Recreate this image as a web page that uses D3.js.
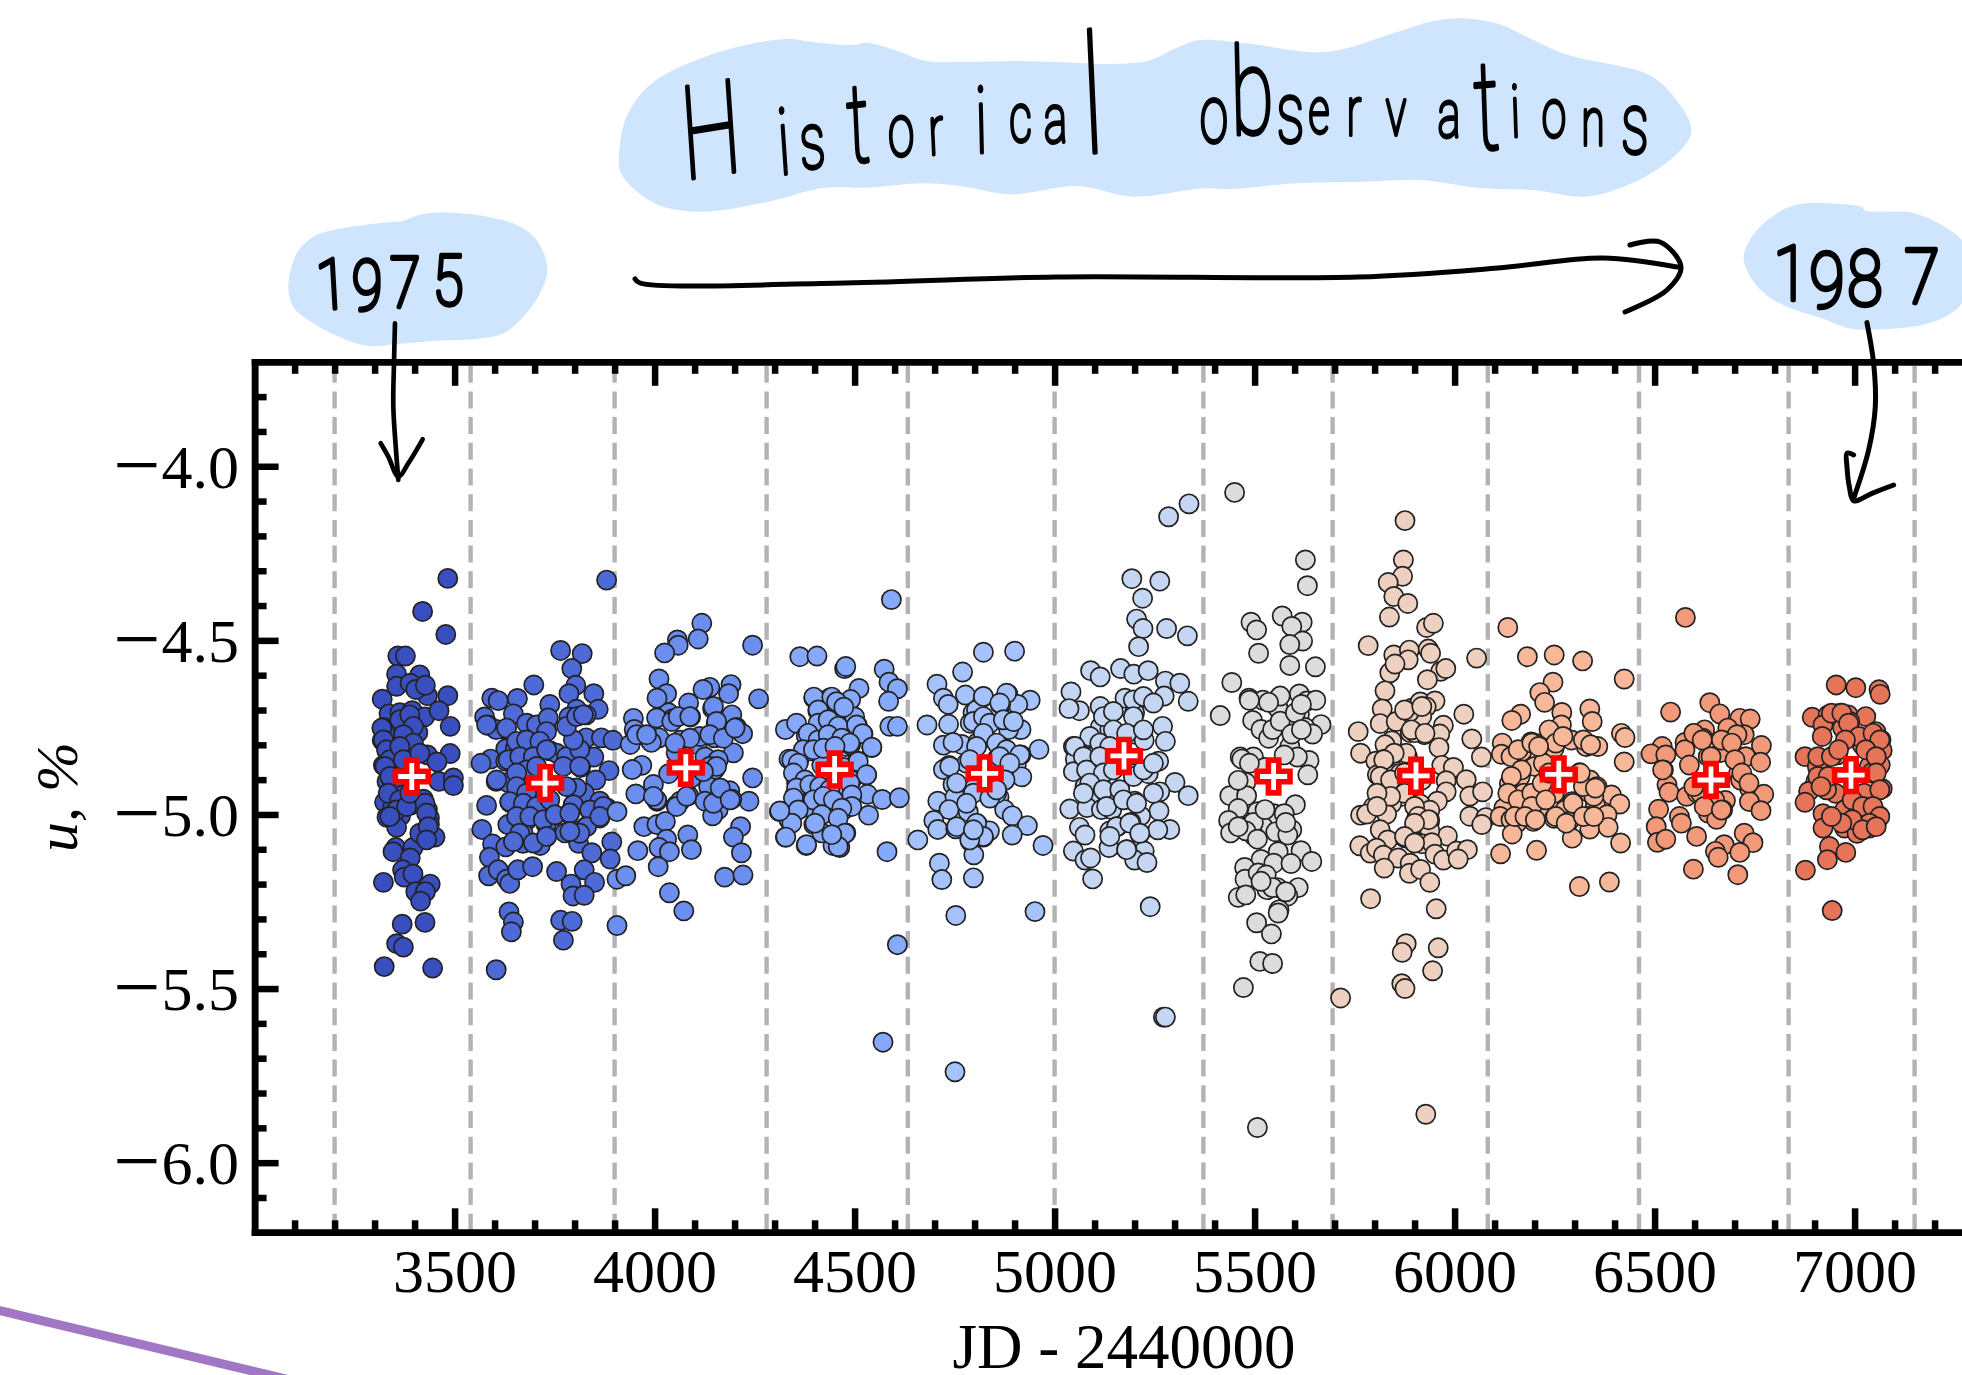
<!DOCTYPE html>
<html>
<head>
<meta charset="utf-8">
<script src="https://cdn.jsdelivr.net/npm/d3@7/dist/d3.min.js"></script>
<style>
html,body{margin:0;padding:0;background:#fff;overflow:hidden}
svg{display:block}
text{font-family:"Liberation Serif","Times New Roman",serif;fill:#000}
</style>
</head>
<body>
<svg id="chart" width="1962" height="1375"></svg>
<script>
// ---------- data: [JD - 2440000, u %] ----------
const season1=[[3483,-4.322],[3420,-4.417],[3478,-4.483],[3358,-4.545],[3377,-4.545],[3355,-4.597],[3355,-4.632],[3413,-4.599],[3389,-4.623],[3432,-4.659],[3403,-4.641],[3427,-4.629],[3319,-4.669],[3483,-4.659],[3336,-4.711],[3363,-4.708],[3394,-4.702],[3425,-4.72],[3461,-4.702],[3489,-4.747],[3322,-4.75],[3341,-4.756],[3365,-4.738],[3408,-4.765],[3379,-4.744],[3319,-4.787],[3331,-4.817],[3365,-4.811],[3394,-4.817],[3432,-4.829],[3489,-4.825],[3456,-4.849],[3322,-4.859],[3341,-4.847],[3384,-4.883],[3331,-4.905],[3461,-4.905],[3497,-4.895],[3497,-4.917],[3351,-4.92],[3370,-4.944],[3422,-4.956],[3325,-4.965],[3346,-4.974],[3389,-4.974],[3432,-4.986],[3331,-5.008],[3365,-5.004],[3437,-5.01],[3355,-5.037],[3437,-5.029],[3427,-5.065],[3451,-5.065],[3353,-5.095],[3346,-5.107],[3396,-5.095],[3389,-5.125],[3370,-5.159],[3374,-5.18],[3396,-5.171],[3322,-5.195],[3403,-5.222],[3439,-5.2],[3427,-5.222],[3415,-5.249],[3369,-5.315],[3426,-5.31],[3355,-5.371],[3372,-5.381],[3324,-5.437],[3445,-5.441],[3318,-4.752],[3322,-4.786],[3330,-4.814],[3338,-4.843],[3326,-4.862],[3338,-4.891],[3363,-4.728],[3388,-4.714],[3397,-4.747],[3372,-4.771],[3397,-4.795],[3363,-4.805],[3372,-4.843],[3413,-4.824],[3334,-4.939],[3363,-4.958],[3355,-4.987],[3380,-4.977],[3426,-4.968],[3430,-4.996],[3338,-5.006],[3413,-5.054],[3434,-5.035],[3430,-5.073],[3388,-4.939]];
const season2=[[3880,-4.327],[3765,-4.529],[3819,-4.538],[3793,-4.581],[3698,-4.628],[3803,-4.629],[3786,-4.653],[3848,-4.653],[3738,-4.684],[3593,-4.666],[3609,-4.673],[3657,-4.667],[3859,-4.698],[3805,-4.698],[3829,-4.714],[3575,-4.72],[3585,-4.744],[3786,-4.72],[3733,-4.726],[3647,-4.711],[3628,-4.756],[3686,-4.744],[3604,-4.756],[3709,-4.762],[3729,-4.756],[3829,-4.78],[3867,-4.78],[3896,-4.787],[3628,-4.811],[3652,-4.811],[3690,-4.811],[3738,-4.817],[3776,-4.835],[3805,-4.829],[3848,-4.835],[3590,-4.841],[3566,-4.853],[3628,-4.847],[3676,-4.847],[3815,-4.865],[3886,-4.874],[3604,-4.905],[3633,-4.908],[3666,-4.901],[3709,-4.883],[3853,-4.901],[3796,-4.926],[3700,-4.956],[3580,-4.974],[3638,-4.965],[3824,-4.938],[3863,-4.962],[3882,-4.982],[3676,-4.992],[3796,-4.974],[3839,-4.99],[3633,-5.029],[3681,-5.016],[3748,-5.004],[3786,-4.998],[3863,-5.01],[3729,-5.029],[3829,-5.035],[3810,-5.047],[3568,-5.043],[3671,-5.053],[3729,-5.065],[3776,-5.053],[3595,-5.085],[3628,-5.093],[3671,-5.083],[3714,-5.089],[3810,-5.083],[3893,-5.079],[3843,-5.11],[3587,-5.123],[3889,-5.128],[3585,-5.176],[3609,-5.159],[3630,-5.186],[3638,-5.198],[3658,-5.159],[3695,-5.15],[3755,-5.164],[3824,-5.159],[3850,-5.195],[3791,-5.2],[3796,-5.234],[3824,-5.232],[3636,-5.28],[3647,-5.309],[3642,-5.337],[3765,-5.304],[3794,-5.307],[3772,-5.361],[3604,-5.446],[3580,-4.743],[3630,-4.752],[3655,-4.79],[3680,-4.738],[3705,-4.743],[3734,-4.723],[3730,-4.762],[3680,-4.786],[3713,-4.79],[3755,-4.824],[3634,-4.843],[3663,-4.834],[3697,-4.834],[3730,-4.814],[3780,-4.834],[3813,-4.814],[3797,-4.786],[3780,-4.747],[3805,-4.719],[3822,-4.714],[3680,-4.872],[3655,-4.881],[3705,-4.862],[3772,-4.862],[3813,-4.862],[3605,-4.901],[3655,-4.92],[3680,-4.939],[3805,-4.924],[3780,-4.92],[3638,-4.963],[3672,-4.968],[3705,-4.977],[3738,-4.958],[3797,-4.972],[3838,-4.987],[3655,-5.006],[3688,-5.006],[3722,-5.015],[3751,-5.001],[3788,-4.996],[3830,-5.035],[3813,-5.054],[3663,-5.054],[3697,-5.082],[3730,-5.063],[3647,-5.078],[3788,-5.049],[3872,-4.977],[3863,-5.006]];
const season3=[[4118,-4.451],[4109,-4.496],[4057,-4.499],[4059,-4.514],[4025,-4.536],[4245,-4.514],[4011,-4.611],[4138,-4.635],[4191,-4.627],[4121,-4.641],[4185,-4.653],[4030,-4.653],[4006,-4.666],[4260,-4.668],[4085,-4.68],[4035,-4.708],[3947,-4.724],[4145,-4.696],[4193,-4.714],[4090,-4.72],[4154,-4.738],[4044,-4.726],[4205,-4.75],[4220,-4.768],[3949,-4.756],[3977,-4.774],[4011,-4.78],[4064,-4.787],[3992,-4.793],[4107,-4.799],[4150,-4.78],[3939,-4.799],[4197,-4.823],[4054,-4.823],[4126,-4.835],[4156,-4.847],[3968,-4.859],[3944,-4.871],[4150,-4.871],[4035,-4.883],[4092,-4.895],[4245,-4.895],[3997,-4.914],[3953,-4.941],[4006,-4.962],[4085,-4.946],[4159,-4.926],[4135,-4.92],[4188,-4.932],[4236,-4.962],[4193,-4.956],[4054,-4.974],[4064,-4.962],[4126,-4.962],[4159,-4.986],[4145,-5.004],[4215,-5.035],[3973,-5.035],[4006,-5.029],[4027,-5.02],[4083,-5.059],[4030,-5.071],[4197,-5.065],[3958,-5.104],[4011,-5.095],[4037,-5.107],[4092,-5.101],[4217,-5.11],[4009,-5.15],[4175,-5.18],[4221,-5.174],[4037,-5.225],[4073,-5.277],[3906,-5.319],[3906,-4.992],[3906,-5.186],[3928,-5.176],[3955,-4.771],[3980,-4.771],[4005,-4.723],[4043,-4.733],[4059,-4.719],[4088,-4.719],[4147,-4.69],[4155,-4.733],[4113,-4.776],[4138,-4.771],[4088,-4.781],[4051,-4.795],[4172,-4.781],[4201,-4.752],[4159,-4.843],[4138,-4.862],[4155,-4.862],[4005,-4.958],[3997,-4.948],[4055,-4.977],[4080,-4.948],[4122,-4.877],[4147,-4.968],[4164,-4.924],[4189,-4.958]];
const season4=[[4363,-4.547],[4406,-4.545],[4475,-4.581],[4327,-4.756],[4355,-4.738],[4398,-4.666],[4437,-4.666],[4456,-4.678],[4408,-4.702],[4379,-4.774],[4427,-4.762],[4336,-4.841],[4360,-4.847],[4389,-4.817],[4418,-4.859],[4451,-4.799],[4312,-4.992],[4360,-4.986],[4327,-5.065],[4379,-5.089],[4398,-5.029],[4336,-5.016],[4355,-4.908],[4427,-4.98],[4446,-5.089],[4418,-5.053],[4351,-4.944],[4398,-4.944],[4592,-4.383],[4478,-4.575],[4574,-4.583],[4586,-4.62],[4607,-4.639],[4511,-4.638],[4585,-4.675],[4473,-4.69],[4588,-4.747],[4607,-4.747],[4507,-4.744],[4521,-4.769],[4543,-4.808],[4478,-4.805],[4507,-4.847],[4530,-4.886],[4492,-4.902],[4532,-4.942],[4569,-4.957],[4612,-4.952],[4535,-5.002],[4473,-4.986],[4478,-5.053],[4581,-5.107],[4607,-5.374],[4571,-5.654],[4463,-5.095],[4492,-4.95],[4473,-4.865],[4440,-4.72],[4470,-4.76],[4490,-4.8],[4440,-4.92],[4420,-4.95],[4460,-4.96],[4480,-4.92],[4450,-5],[4400,-4.99],[4460,-4.7],[4490,-4.67],[4500,-4.72],[4398,-4.663],[4443,-4.663],[4455,-4.676],[4473,-4.692],[4409,-4.7],[4409,-4.738],[4434,-4.728],[4459,-4.747],[4505,-4.743],[4520,-4.768],[4543,-4.807],[4384,-4.767],[4409,-4.786],[4434,-4.771],[4468,-4.781],[4488,-4.795],[4372,-4.814],[4397,-4.814],[4422,-4.81],[4451,-4.805],[4509,-4.848],[4343,-4.843],[4359,-4.853],[4347,-4.881],[4376,-4.901],[4530,-4.886],[4355,-4.924],[4388,-4.915],[4413,-4.92],[4438,-4.929],[4488,-4.91],[4347,-4.953],[4397,-4.958],[4422,-4.948],[4493,-4.944],[4447,-4.958],[4493,-4.977],[4468,-4.982],[4359,-4.987],[4418,-5.001],[4401,-5.025],[4343,-5.025],[4459,-5.011],[4476,-5.054],[4459,-5.092],[4380,-5.087],[4328,-5.065],[4313,-4.99],[4443,-5.058]];
const season5=[[4822,-4.534],[4900,-4.531],[4770,-4.591],[4706,-4.626],[4722,-4.666],[4734,-4.684],[4777,-4.657],[4822,-4.662],[4883,-4.654],[4939,-4.672],[4908,-4.684],[4865,-4.684],[4796,-4.708],[4681,-4.743],[4735,-4.741],[4789,-4.738],[4818,-4.72],[4832,-4.744],[4875,-4.732],[4916,-4.756],[4822,-4.775],[4885,-4.756],[4722,-4.801],[4768,-4.799],[4746,-4.793],[4808,-4.793],[4865,-4.805],[4880,-4.823],[4961,-4.813],[4916,-4.829],[4736,-4.859],[4722,-4.871],[4789,-4.853],[4856,-4.841],[4904,-4.859],[4918,-4.892],[4875,-4.902],[4746,-4.914],[4798,-4.926],[4770,-4.95],[4708,-4.962],[4751,-4.95],[4861,-4.95],[4875,-4.986],[4894,-5.004],[4932,-5.032],[4894,-5.059],[4736,-4.986],[4784,-4.992],[4698,-5.017],[4708,-5.043],[4753,-5.041],[4808,-5.029],[4837,-5.047],[4822,-5.065],[4789,-5.077],[4658,-5.073],[4798,-5.116],[4971,-5.089],[4712,-5.14],[4718,-5.187],[4797,-5.182],[4753,-5.29],[4951,-5.279],[4751,-5.739],[4805,-4.7],[4822,-4.661],[4880,-4.652],[4863,-4.68],[4797,-4.733],[4822,-4.719],[4838,-4.738],[4872,-4.728],[4897,-4.733],[4822,-4.767],[4855,-4.795],[4805,-4.805],[4880,-4.814],[4780,-4.853],[4738,-4.862],[4755,-4.91],[4797,-4.939],[4855,-4.939],[4788,-4.843],[4863,-4.834],[4913,-4.829],[4888,-4.853],[4876,-4.901],[4838,-4.953],[4855,-4.929],[4780,-4.968],[4755,-5.035],[4805,-5.025],[4822,-5.063],[4788,-5.073],[4797,-5.044]];
const season6=[[5285,-4.145],[5336,-4.108],[5193,-4.323],[5263,-4.33],[5220,-4.379],[5205,-4.439],[5221,-4.466],[5280,-4.466],[5332,-4.487],[5210,-4.518],[5090,-4.587],[5114,-4.605],[5165,-4.581],[5198,-4.597],[5234,-4.587],[5277,-4.617],[5313,-4.623],[5041,-4.648],[5062,-4.702],[5036,-4.696],[5114,-4.69],[5176,-4.666],[5205,-4.672],[5274,-4.66],[5334,-4.675],[5200,-4.708],[5145,-4.706],[5270,-4.747],[5114,-4.75],[5277,-4.79],[5200,-4.769],[5090,-4.781],[5047,-4.805],[5138,-4.756],[5224,-4.787],[5052,-4.841],[5076,-4.841],[5133,-4.829],[5260,-4.847],[5095,-4.865],[5047,-4.877],[5196,-4.883],[5133,-4.89],[5234,-4.883],[5301,-4.908],[5334,-4.946],[5076,-4.92],[5095,-4.938],[5038,-4.984],[5081,-4.98],[5129,-4.938],[5200,-4.962],[5263,-4.935],[5117,-4.986],[5143,-4.986],[5261,-4.99],[5215,-5.004],[5157,-5.035],[5191,-5.023],[5288,-5.043],[5062,-5.037],[5076,-5.059],[5138,-5.047],[5213,-5.055],[5258,-5.044],[5136,-5.095],[5224,-5.105],[5047,-5.105],[5076,-5.131],[5090,-5.125],[5181,-5.101],[5200,-5.131],[5231,-5.138],[5095,-5.185],[5239,-5.265],[5272,-5.582],[5277,-5.582],[5122,-4.719],[5147,-4.704],[5197,-4.671],[5222,-4.661],[5247,-4.68],[5197,-4.719],[5088,-4.776],[5113,-4.795],[5147,-4.757],[5138,-4.805],[5180,-4.767],[5222,-4.757],[5051,-4.805],[5072,-4.834],[5080,-4.872],[5113,-4.834],[5122,-4.881],[5147,-4.872],[5088,-4.91],[5072,-4.939],[5122,-4.929],[5163,-4.929],[5197,-4.891],[5222,-4.872],[5247,-4.853],[5130,-4.977],[5172,-4.958],[5205,-4.968],[5247,-4.939],[5155,-5.035],[5188,-5.025],[5213,-5.054],[5138,-5.063],[5180,-5.101]];
const season7=[[5450,-4.075],[5627,-4.269],[5632,-4.343],[5491,-4.448],[5505,-4.47],[5569,-4.43],[5619,-4.448],[5593,-4.46],[5620,-4.502],[5588,-4.512],[5510,-4.537],[5588,-4.572],[5652,-4.576],[5443,-4.621],[5414,-4.716],[5486,-4.666],[5521,-4.672],[5554,-4.672],[5612,-4.654],[5631,-4.674],[5653,-4.672],[5559,-4.696],[5612,-4.712],[5495,-4.73],[5666,-4.742],[5626,-4.75],[5516,-4.756],[5535,-4.781],[5645,-4.769],[5588,-4.805],[5464,-4.835],[5497,-4.835],[5636,-4.845],[5607,-4.835],[5633,-4.886],[5478,-4.908],[5526,-4.865],[5438,-4.946],[5480,-4.946],[5602,-4.972],[5459,-4.983],[5548,-4.998],[5574,-4.998],[5435,-5.017],[5507,-4.992],[5468,-5.035],[5440,-5.053],[5521,-5.035],[5553,-5.05],[5593,-5.044],[5500,-5.063],[5583,-5.059],[5559,-5.107],[5616,-5.104],[5516,-5.129],[5548,-5.14],[5591,-5.141],[5643,-5.135],[5475,-5.152],[5476,-5.186],[5509,-5.168],[5529,-5.174],[5531,-5.216],[5459,-5.238],[5478,-5.231],[5557,-5.21],[5609,-5.21],[5583,-5.234],[5561,-5.274],[5505,-5.311],[5542,-5.343],[5513,-5.422],[5545,-5.428],[5472,-5.497],[5507,-5.899],[5468,-4.841],[5487,-4.853],[5459,-4.902],[5545,-4.756],[5564,-4.732],[5593,-4.769],[5602,-4.708],[5617,-4.756],[5574,-4.829],[5497,-5.023],[5526,-4.986],[5478,-5.047],[5459,-5.035],[5578,-5.023],[5507,-5.071],[5564,-4.66],[5535,-4.678],[5487,-4.672],[5617,-4.684],[5545,-5.21],[5516,-5.192],[5559,-5.283],[5578,-5.222]];
const season8=[[5715,-5.527],[5876,-4.156],[5872,-4.269],[5870,-4.316],[5834,-4.334],[5848,-4.374],[5883,-4.394],[5837,-4.433],[5930,-4.463],[5947,-4.451],[5784,-4.515],[5848,-4.542],[5887,-4.528],[5884,-4.556],[5838,-4.593],[5934,-4.525],[5940,-4.537],[5851,-4.568],[5965,-4.589],[5978,-4.581],[5932,-4.613],[6055,-4.551],[5826,-4.645],[5819,-4.697],[5814,-4.739],[5854,-4.733],[5759,-4.762],[5765,-4.824],[5893,-4.695],[5914,-4.677],[5951,-4.674],[5929,-4.691],[5918,-4.718],[5887,-4.706],[6023,-4.712],[5972,-4.744],[5963,-4.769],[5924,-4.771],[5889,-4.765],[5901,-4.765],[5843,-4.788],[5826,-4.8],[6043,-4.783],[5961,-4.808],[6067,-4.835],[5826,-4.841],[5803,-4.847],[5807,-4.886],[5868,-4.841],[5882,-4.835],[5843,-4.9],[5968,-4.859],[5997,-4.865],[6029,-4.9],[5979,-4.903],[5864,-4.882],[5979,-4.935],[5808,-4.937],[5843,-4.926],[5864,-4.949],[6038,-4.947],[6070,-4.935],[5957,-4.962],[5843,-4.968],[5797,-4.978],[5765,-5.002],[5780,-4.999],[5830,-4.999],[5914,-4.97],[5905,-5.011],[5938,-4.988],[6038,-5.005],[6078,-5.009],[6068,-5.029],[5814,-5.044],[5901,-5.029],[5938,-5.017],[5982,-5.062],[5938,-5.046],[5763,-5.09],[5833,-5.073],[5789,-5.111],[5805,-5.097],[5822,-5.117],[5876,-5.067],[5897,-5.079],[5918,-5.084],[5943,-5.081],[5951,-5.114],[5972,-5.131],[6005,-5.105],[6032,-5.101],[6009,-5.128],[5859,-5.125],[5889,-5.14],[5824,-5.154],[5887,-5.169],[5915,-5.158],[5938,-5.195],[5790,-5.242],[5954,-5.271],[5879,-5.371],[5869,-5.396],[5959,-5.383],[5945,-5.449],[5868,-5.486],[5876,-5.5],[5928,-5.861],[5875,-4.7],[5918,-4.69],[5892,-4.757],[5926,-4.767],[5879,-4.824],[5849,-4.824],[5823,-4.843],[5814,-4.891],[5840,-4.901],[5875,-4.881],[5875,-4.939],[5840,-4.948],[5806,-4.939],[5900,-4.977],[5909,-5.006],[5935,-5.015],[5900,-5.025],[5875,-5.063],[5900,-5.082],[5806,-4.977],[5918,-4.901]];
const season9=[[6133,-4.463],[6182,-4.547],[6249,-4.542],[6320,-4.559],[6424,-4.611],[6246,-4.62],[6213,-4.65],[6225,-4.678],[6165,-4.712],[6143,-4.73],[6268,-4.707],[6338,-4.697],[6267,-4.743],[6344,-4.733],[6417,-4.767],[6426,-4.779],[6119,-4.795],[6191,-4.792],[6117,-4.827],[6240,-4.767],[6168,-4.819],[6200,-4.795],[6249,-4.81],[6292,-4.786],[6358,-4.805],[6329,-4.805],[6141,-4.834],[6424,-4.849],[6168,-4.872],[6200,-4.862],[6222,-4.853],[6312,-4.881],[6338,-4.901],[6137,-4.912],[6164,-4.891],[6356,-4.92],[6392,-4.944],[6413,-4.97],[6137,-4.944],[6173,-4.939],[6204,-4.939],[6249,-4.939],[6294,-4.963],[6338,-4.939],[6123,-4.982],[6114,-5.006],[6186,-4.977],[6213,-4.987],[6276,-4.987],[6352,-4.972],[6381,-5.001],[6155,-5.025],[6141,-5.015],[6197,-5.02],[6249,-5.011],[6285,-5.02],[6334,-5.006],[6144,-5.056],[6338,-5.042],[6384,-5.037],[6294,-5.068],[6415,-5.082],[6115,-5.113],[6205,-5.103],[6312,-5.207],[6387,-5.194],[6236,-4.757],[6253,-4.795],[6271,-4.776],[6322,-4.786],[6340,-4.8],[6159,-4.814],[6193,-4.795],[6210,-4.805],[6167,-4.872],[6142,-4.891],[6133,-4.939],[6159,-4.958],[6193,-4.939],[6219,-4.91],[6236,-4.881],[6193,-4.977],[6228,-4.958],[6253,-5.006],[6296,-4.968],[6279,-5.025],[6322,-5.006],[6348,-5.006],[6348,-4.948],[6322,-4.92],[6352,-4.924],[6314,-4.881],[6150,-5.006],[6176,-5.006],[6202,-5.015]];
const season10=[[6577,-4.434],[6540,-4.706],[6638,-4.679],[6663,-4.711],[6713,-4.724],[6739,-4.726],[6683,-4.752],[6598,-4.767],[6625,-4.757],[6576,-4.793],[6621,-4.781],[6724,-4.771],[6706,-4.771],[6767,-4.802],[6674,-4.795],[6519,-4.805],[6491,-4.826],[6528,-4.829],[6576,-4.814],[6665,-4.822],[6728,-4.834],[6765,-4.85],[6522,-4.872],[6587,-4.858],[6634,-4.834],[6710,-4.881],[6531,-4.915],[6536,-4.936],[6737,-4.925],[6715,-4.901],[6773,-4.942],[6580,-4.948],[6677,-4.96],[6737,-4.963],[6766,-4.989],[6510,-4.985],[6634,-4.996],[6670,-4.987],[6655,-5.014],[6562,-5.006],[6567,-5.025],[6605,-5.063],[6504,-5.035],[6507,-5.08],[6528,-5.071],[6674,-5.087],[6652,-5.106],[6724,-5.054],[6746,-5.081],[6713,-5.109],[6659,-5.123],[6597,-5.157],[6708,-5.173],[6607,-4.939],[6598,-4.767],[6619,-4.786],[6667,-4.786],[6693,-4.795],[6701,-4.843],[6641,-4.834],[6718,-4.881],[6736,-4.91],[6615,-4.939],[6650,-4.958],[6624,-4.977],[6667,-4.987],[6520,-4.872],[6598,-4.92]];
const season11=[[6954,-4.628],[7003,-4.636],[7061,-4.642],[7064,-4.655],[6894,-4.721],[6934,-4.714],[6964,-4.709],[6984,-4.714],[7028,-4.719],[6921,-4.743],[6988,-4.733],[6919,-4.776],[6970,-4.752],[7053,-4.762],[7066,-4.786],[7019,-4.8],[7069,-4.816],[6992,-4.776],[6876,-4.834],[6910,-4.838],[6907,-4.862],[6957,-4.829],[7064,-4.858],[7037,-4.862],[6903,-4.905],[7042,-4.881],[6885,-4.934],[6952,-4.939],[6876,-4.965],[6930,-4.929],[7069,-4.926],[6921,-4.998],[6957,-5.011],[6992,-4.972],[7010,-4.977],[7046,-4.992],[7062,-5.004],[6921,-5.039],[6975,-5.039],[7006,-5.054],[7037,-5.039],[7055,-5.02],[6937,-5.092],[6978,-5.109],[6932,-5.13],[6877,-5.16],[6944,-5.276],[7024,-4.939],[6975,-4.987],[6942,-4.709],[6968,-4.709],[6985,-4.738],[7011,-4.776],[6977,-4.786],[7046,-4.767],[7063,-4.786],[6908,-4.834],[6942,-4.834],[6960,-4.814],[7028,-4.814],[7054,-4.834],[6908,-4.891],[6934,-4.891],[6916,-4.92],[7054,-4.881],[7063,-4.929],[6994,-4.958],[7020,-4.977],[7046,-4.977],[7063,-5.006],[7037,-5.025],[6994,-5.015],[6968,-5.025],[7020,-5.044],[6942,-5.006],[7054,-5.035]];
const seasons=[season1,season2,season3,season4,season5,season6,season7,season8,season9,season10,season11];
const seasonColors=["#3a4fbf","#4d6ad6","#6b8eef","#86a9fb","#a5c2fc","#c5d6f2","#dddcdc","#edd0bf","#f7b89a","#f29979","#e67459"];
const seasonMeans=[[3393,-4.891],[3726,-4.910],[4078,-4.866],[4450,-4.871],[4825,-4.882],[5173.5,-4.832],[5547.5,-4.891],[5903.5,-4.889],[6260.5,-4.885],[6641,-4.901],[6991,-4.887]];
const seasonEdges=[3200,3540,3900,4280,4633,5000,5372,5695,6083,6461,6835,7150];
const xMajor=[3500,4000,4500,5000,5500,6000,6500,7000];
const yMajor=[-4,-4.5,-5,-5.5,-6];
const xMinor=d3.range(3100,7500,100).filter(v=>v%500!==0);
const yMinor=d3.range(-6.2,-3.69,0.1).map(v=>+v.toFixed(1)).filter(v=>Math.abs(v*2-Math.round(v*2))>0.01&&v>-6.2&&v<-3.7);
const xLabel="JD - 2440000";

const svg=d3.select("#chart");
const x=d3.scaleLinear([3000,7500],[254.6,2054.6]);
const y=d3.scaleLinear([-6.2,-3.7],[1232.3,361.8]);
const plotL=254.6,plotT=361.8,plotB=1232.3;
const line=d3.line().curve(d3.curveCatmullRomClosed.alpha(0.5));
const ink=d3.line().curve(d3.curveCatmullRom.alpha(0.5));

// ---------- annotation highlights ----------
const blobTitle=[[27,470],[40,340],[80,240],[150,170],[220,130],[270,117],[300,125],[360,135],[380,128],[420,150],[465,183],[520,186],[590,183],[660,187],[720,192],[780,183],[820,145],[855,120],[920,130],[1020,157],[1060,147],[1130,100],[1190,62],[1230,55],[1280,72],[1320,110],[1380,165],[1490,220],[1530,290],[1555,395],[1530,470],[1470,550],[1405,590],[1330,570],[1250,563],[1170,540],[1090,545],[990,550],[900,567],[860,565],[760,590],[680,558],[585,583],[520,560],[460,550],[380,563],[320,563],[240,605],[150,635],[90,620],[50,570],[30,520]];
const blob1975=[[55,290],[80,190],[130,140],[200,118],[370,95],[390,95],[460,72],[540,68],[640,78],[740,105],[800,150],[832,235],[810,310],[760,380],[700,430],[620,447],[500,452],[380,462],[300,468],[230,450],[130,400],[70,350]];
const blob1987=[[245,200],[270,140],[330,80],[400,45],[500,40],[600,52],[610,62],[750,68],[830,100],[900,150],[950,230],[900,340],[860,375],[780,405],[650,418],[560,415],[480,385],[400,360],[320,320],[265,260]];
const blobs=svg.append("g").attr("fill","#cfe4fd");
blobs.append("path").attr("transform","translate(600,0) scale(0.7018,0.3333)").attr("d",line(blobTitle));
blobs.append("path").attr("transform","translate(270,190) scale(0.3333)").attr("d",line(blob1975));
blobs.append("path").attr("transform","translate(1662,190) scale(0.3333)").attr("d",line(blob1987));

// ---------- season boundaries ----------
svg.append("g").selectAll("line").data(seasonEdges).join("line")
  .attr("x1",d=>x(d)).attr("x2",d=>x(d)).attr("y1",plotT).attr("y2",plotB)
  .attr("stroke","#b3b3b3").attr("stroke-width",4.4).attr("stroke-dasharray","17 8.7").attr("stroke-dashoffset",21.8);

// ---------- points ----------
const pts=svg.append("g");
seasons.forEach((s,i)=>{
  pts.append("g").selectAll("circle").data(s).join("circle")
    .attr("cx",d=>x(d[0])).attr("cy",d=>y(d[1])).attr("r",9.6)
    .attr("fill",seasonColors[i]).attr("stroke","#222").attr("stroke-width",1.7);
});
const plusSymbol={draw(c){const a=16.4,b=5.2;
  c.moveTo(-b,-a);c.lineTo(b,-a);c.lineTo(b,-b);c.lineTo(a,-b);c.lineTo(a,b);c.lineTo(b,b);
  c.lineTo(b,a);c.lineTo(-b,a);c.lineTo(-b,b);c.lineTo(-a,b);c.lineTo(-a,-b);c.lineTo(-b,-b);c.closePath();}};
svg.append("g").selectAll("path").data(seasonMeans).join("path")
  .attr("d",d3.symbol(plusSymbol))
  .attr("transform",d=>`translate(${x(d[0])},${y(d[1])})`)
  .attr("fill","#fff").attr("stroke","#ff0000").attr("stroke-width",5.6).attr("stroke-linejoin","miter");

// ---------- axes ----------
function styleAxis(g,w){
  g.selectAll(".domain").attr("stroke","#000").attr("stroke-width",6.5).attr("stroke-linecap","square");
  g.selectAll(".tick line").attr("stroke","#000").attr("stroke-width",w);
}
const fs=62;
const gb=svg.append("g").attr("transform",`translate(0,${plotB})`)
  .call(d3.axisBottom(x).tickValues(xMajor).tickFormat(d3.format("d")).tickSize(-24).tickSizeOuter(0).tickPadding(0));
styleAxis(gb,6.5);
gb.selectAll("text").attr("y",0).attr("dy",0).attr("transform","translate(0,60)").style("font-size",fs+"px").style("font-family","Liberation Serif");
const gl=svg.append("g").attr("transform",`translate(${plotL},0)`)
  .call(d3.axisLeft(y).tickValues(yMajor).tickFormat(d=>Math.abs(d).toFixed(1)).tickSize(-24).tickSizeOuter(0).tickPadding(0));
styleAxis(gl,6.5);
gl.selectAll("text").attr("x",-15.5).attr("dy",0).attr("transform","translate(0,21)").style("font-size",fs+"px").style("font-family","Liberation Serif")
  .each(function(){
    const t=d3.select(this),num=t.text();
    t.text(null);
    t.append("tspan").style("font-size","84px").attr("dy",5).text("\u2212");
    t.append("tspan").attr("dy",-5).attr("dx",1).text(num);
  });
const gt=svg.append("g").attr("transform",`translate(0,${plotT})`)
  .call(d3.axisTop(x).tickValues(xMajor).tickFormat("").tickSize(-24).tickSizeOuter(0));
styleAxis(gt,6.5);
const minorSets=[
 [d3.axisBottom(x).tickValues(xMinor),`translate(0,${plotB})`],
 [d3.axisTop(x).tickValues(xMinor),`translate(0,${plotT})`],
 [d3.axisLeft(y).tickValues(yMinor),`translate(${plotL},0)`]
];
minorSets.forEach(([ax,tr])=>{
  const g=svg.append("g").attr("transform",tr).call(ax.tickFormat("").tickSize(-12).tickSizeOuter(0));
  styleAxis(g,6.5);
});
svg.append("text").attr("x",1124).attr("y",1368).attr("text-anchor","middle").style("font-size","63px").text(xLabel);
svg.append("text").attr("transform",`translate(77,797) rotate(-90)`).attr("text-anchor","middle")
  .style("font-size","60px").style("font-style","italic").text("u, %");

// ---------- hand-written annotations ----------
function handText(letters,sx,weight,strokeW){
  const t=svg.append("text").attr("transform",`scale(${sx},1)`)
    .attr("text-anchor","middle").style("font-family","Roboto").style("font-weight",weight)
    .attr("stroke","#000").attr("stroke-width",strokeW).attr("stroke-linejoin","round").attr("stroke-linecap","round");
  letters.forEach(([c,px,py,size,rot])=>{
    t.append("tspan").attr("x",px/sx).attr("y",py).attr("rotate",rot).style("font-size",size+"px").text(c);
  });
}
const titleLetters=[["H",714,180,130,-6],["i",786,175,92,-6],["s",814,170,79,-6],["t",860,163,111,-4],["o",902,157,73,-4],["r",937,155,68,-4],["i",982,153,92,-2],["c",1021,142,68,-2],["a",1056,143,68,-2],["l",1095,154,165,-4],[" ",1150,150,60,0],["o",1214,142,79,0],["b",1253,135,122,-2],["s",1291,143,86,-2],["e",1319,133,64,0],["r",1354,135,68,0],["v",1396,135,66,0],["a",1449,137,66,0],["t",1488,150,125,-3],["i",1516,137,72,-3],["o",1554,137,68,0],["n",1593,145,66,0],["s",1635,153,86,0]];
const label1975=[["1",333,310,70,-4],["9",367,310,70,0],["7",405,307,70,0],["5",448,305,70,0]];
const label1987=[["1",1791,300,76,0],["9",1827,307,76,0],["8",1865,305,76,0],["7",1922,303,76,0]];
handText(titleLetters,0.65,100,3.8);
handText(label1975,0.8,100,4.4);
handText(label1987,0.85,100,4.4);

const strokes=svg.append("g").attr("fill","none").attr("stroke","#000").attr("stroke-linecap","round").attr("stroke-linejoin","round");
const arrow1975=[[375,400],[372,520],[370,650],[378,780],[385,870]];
const head1975=[[332,760],[355,800],[385,860],[415,820],[458,748]];
const arrow1987=[[615,398],[635,520],[640,650],[620,780],[575,925]];
const head1987=[[575,795],[555,790],[555,830],[562,890],[575,932],[630,910],[695,885]];
const g75=strokes.append("g").attr("transform","translate(270,190) scale(0.3333)").attr("stroke-width",14);
g75.append("path").attr("d",ink(arrow1975));g75.append("path").attr("d",ink(head1975));
const g87=strokes.append("g").attr("transform","translate(1662,190) scale(0.3333)").attr("stroke-width",15);
g87.append("path").attr("d",ink(arrow1987));g87.append("path").attr("d",ink(head1987));
const longArrow=[[635,279],[640,283],[845,283],[1056,277],[1358,277],[1498,268],[1603,258],[1677,267]];
const longHead=[[1630,245],[1660,242],[1681,267],[1667,290],[1625,312]];
strokes.append("path").attr("stroke-width",5).attr("d",ink(longArrow));
strokes.append("path").attr("stroke-width",5).attr("d",ink(longHead));

// ---------- purple line leaving the figure ----------
svg.append("line").attr("x1",-5).attr("y1",1309.5).attr("x2",290).attr("y2",1380)
  .attr("stroke","#a176c4").attr("stroke-width",9);
</script>
</body>
</html>
